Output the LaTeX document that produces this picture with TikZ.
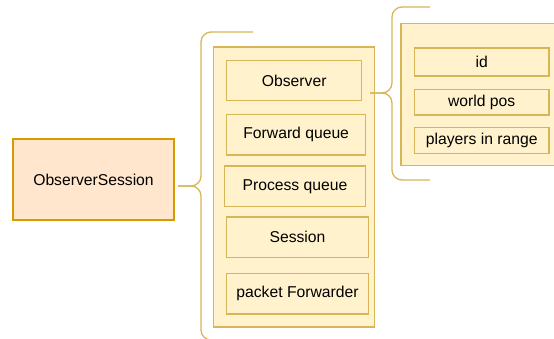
\documentclass[tikz,border=0pt]{standalone}
\usepackage{fontspec}
\setmainfont{Liberation Sans}
\definecolor{yfill}{HTML}{FFF2CC}
\definecolor{ystroke}{HTML}{D6B656}
\definecolor{ofill}{HTML}{FFE6CC}
\definecolor{ostroke}{HTML}{D79B00}
\begin{document}
\begin{tikzpicture}[x=1pt,y=-1pt,
  box/.style={draw=ystroke,fill=yfill,line width=1.3pt,inner sep=0pt,font=\fontsize{15.7}{18}\selectfont},
  panel/.style={draw=ystroke,fill=yfill,line width=1.3pt},
  brace/.style={draw=ystroke,line width=1.3pt,rounded corners=10pt}]
\useasboundingbox (0,0) rectangle (554,339);
% left box
\path[draw=ostroke,fill=ofill,line width=1.3pt] (13,139) rectangle (174,220);
\node[font=\fontsize{15.7}{18}\selectfont] (os) at (93.5,179.5) {ObserverSession};
% left brace
\coordinate (lt) at (178,186);
\coordinate (ltop) at (253,32);
\coordinate (lbot) at (253,340);
\draw[brace] (ltop) -| (201,186) -- (lt);
\draw[brace] (lbot) -| (201,186) -- (lt);
% middle panel
\path[panel] (213.5,47) rectangle (374.5,327);
\node[box,minimum width=135pt,minimum height=40.5pt] (obs) at (194.2+100,80.5) {Observer};
\node[box,minimum width=139pt,minimum height=40.5pt] (fq) at (296.2,134.8) {Forward queue};
\node[box,minimum width=141.5pt,minimum height=40.5pt] (pq) at (295,186.3) {Process queue};
\node[box,minimum width=141.5pt,minimum height=40.5pt] (ses) at (297.5,237.3) {Session};
\node[box,minimum width=141.5pt,minimum height=40.5pt] (pf) at (297.5,293.6) {packet Forwarder};
% right brace
\coordinate (rt) at (370,93);
\coordinate (rtop) at (430,7);
\coordinate (rbot) at (430,180);
\draw[brace] (rtop) -| (392,93) -- (rt);
\draw[brace] (rbot) -| (392,93) -- (rt);
% right panel
\path[panel] (401,23.5) rectangle (570,165.5);
\node[box,minimum width=134.5pt,minimum height=28pt] (id) at (481.7,62) {id};
\node[box,minimum width=134.5pt,minimum height=25.5pt] (wp) at (481.7,102.2) {world pos};
\node[box,minimum width=134.5pt,minimum height=25.5pt] (pir) at (481.7,140.5) {players in range};
\end{tikzpicture}
\end{document}
